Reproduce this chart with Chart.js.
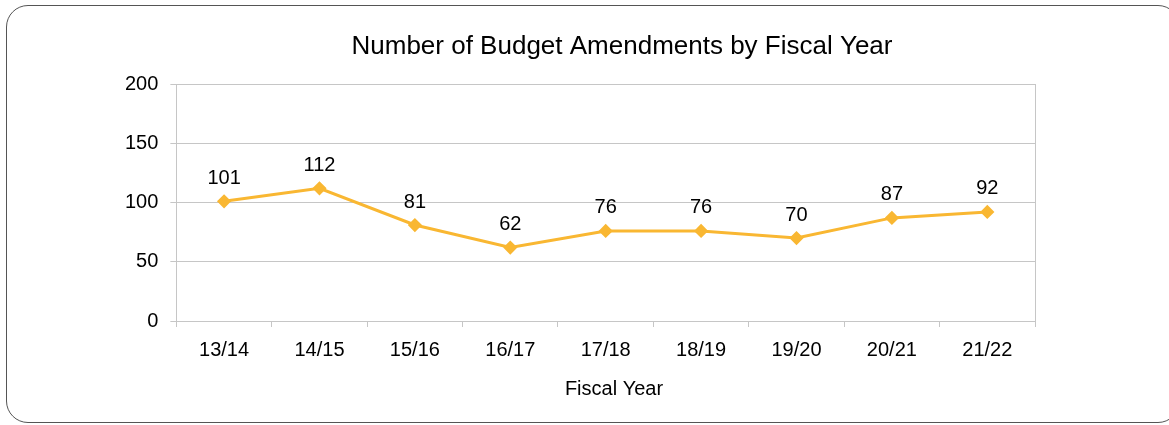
<!DOCTYPE html>
<html>
<head>
<meta charset="utf-8">
<script src="https://cdn.jsdelivr.net/npm/chart.js@4.4.0/dist/chart.umd.min.js"></script>
<style>
	html, body {
		margin: 0;
		padding: 0;
		background: #fff;
		overflow: hidden;
	}
	.frame {
		position: absolute;
		left: 6px;
		top: 5px;
		width: 1174px;
		height: 418px;
		border: 1.5px solid #555;
		border-radius: 22px;
		box-sizing: border-box;
	}
	.wrap {
		position: absolute;
		left: 0;
		top: 0;
		width: 1169px;
		height: 425px;
	}
</style>
</head>
<body>
<div class="frame"></div>
<div class="wrap"><canvas id="budgetChart"></canvas></div>
<script>
const fiscalYears = ['13/14', '14/15', '15/16', '16/17', '17/18', '18/19', '19/20', '20/21', '21/22'];
const amendments = [101, 112, 81, 62, 76, 76, 70, 87, 92];
const yTicks = [0, 50, 100, 150, 200];
const chartTitle = 'Number of Budget Amendments by Fiscal Year';
const xTitle = 'Fiscal Year';

const lineColor = '#F9B732';
const gridColor = '#C6C6C6';
const fontFamily = '"Liberation Sans", Arial, sans-serif';

// Titles, plot frame and the value above each point
const valueLabels = {
	id: 'valueLabels',
	afterDatasetsDraw(chart) {
		const ctx = chart.ctx;
		const area = chart.chartArea;
		ctx.save();
		ctx.strokeStyle = gridColor;
		ctx.lineWidth = 1;
		ctx.beginPath();
		ctx.moveTo(area.right + 0.5, area.top);
		ctx.lineTo(area.right + 0.5, area.bottom);
		ctx.stroke();

		ctx.fillStyle = '#000';
		ctx.textAlign = 'center';
		ctx.textBaseline = 'middle';
		ctx.font = '26px ' + fontFamily;
		ctx.fillText(chartTitle, 622, 47);

		ctx.font = '20px ' + fontFamily;
		ctx.fillText(xTitle, 614, 389);

		const meta = chart.getDatasetMeta(0);
		meta.data.forEach((pt, i) => {
			ctx.fillText(String(amendments[i]), pt.x, pt.y - 23);
		});
		ctx.restore();
	},
};

const ctx = document.getElementById('budgetChart').getContext('2d');
new Chart(ctx, {
	type: 'line',
	data: {
		labels: fiscalYears,
		datasets: [
			{
				data: amendments,
				borderColor: lineColor,
				backgroundColor: lineColor,
				borderWidth: 3,
				pointStyle: 'rectRot',
				pointRadius: 5,
				pointHoverRadius: 5,
				tension: 0,
			},
		],
	},
	options: {
		responsive: true,
		maintainAspectRatio: false,
		animation: false,
		layout: {
			padding: { left: 113, right: 134, top: 84, bottom: 20 },
		},
		plugins: {
			legend: { display: false },
			tooltip: { enabled: false },
			title: { display: false },
		},
		scales: {
			x: {
				offset: true,
				grid: {
					offset: true,
					drawOnChartArea: false,
					drawTicks: true,
					tickLength: 6,
					color: gridColor,
				},
				border: { color: gridColor },
				ticks: {
					color: '#000',
					font: { family: fontFamily, size: 20 },
					padding: 11,
					maxRotation: 0,
				},
				// keeps the room for the axis title, which the plugin draws
				title: {
					display: true,
					text: xTitle,
					color: 'rgba(0,0,0,0)',
					font: { family: fontFamily, size: 20 },
					padding: { top: 8, bottom: 0 },
				},
			},
			y: {
				min: 0,
				max: 200,
				afterBuildTicks(axis) {
					axis.ticks = yTicks.map((v) => ({ value: v }));
				},
				grid: {
					color: gridColor,
					tickLength: 6,
				},
				border: { color: gridColor },
				ticks: {
					color: '#000',
					font: { family: fontFamily, size: 20 },
					padding: 12,
				},
			},
		},
	},
	plugins: [valueLabels],
});
</script>
</body>
</html>
